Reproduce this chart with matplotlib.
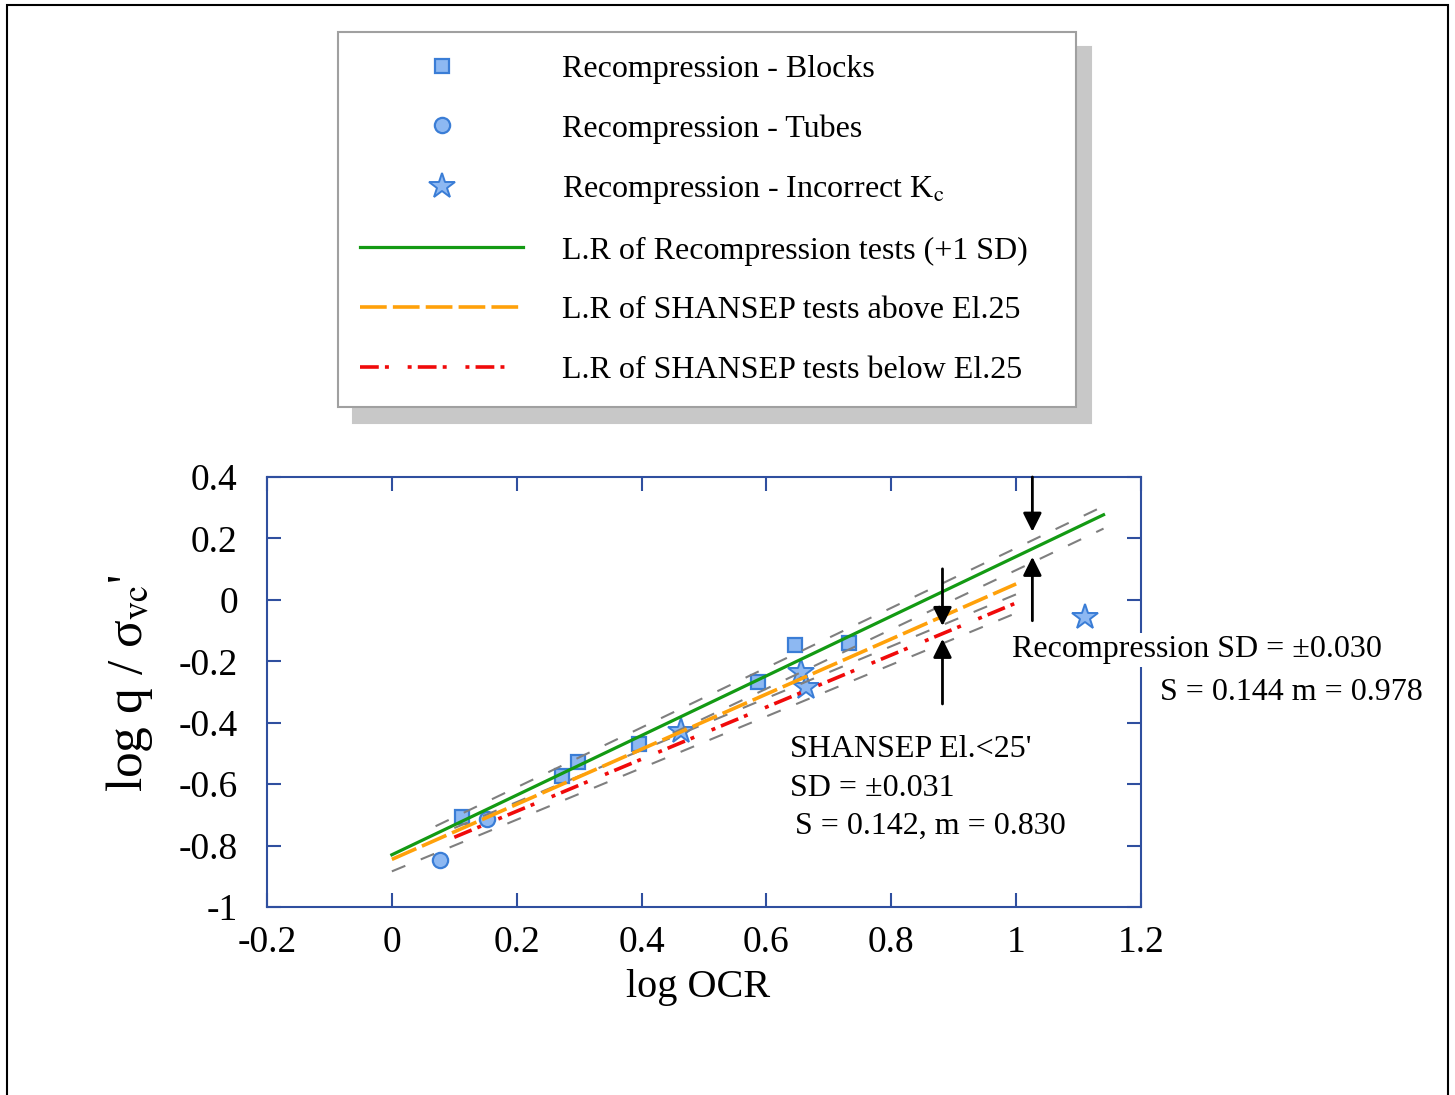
import matplotlib
matplotlib.use('Agg')
import matplotlib.pyplot as plt
import numpy as np
from matplotlib.lines import Line2D
from matplotlib.patches import Rectangle

plt.rcParams['font.family'] = ['Liberation Serif', 'DejaVu Serif']
plt.rcParams['mathtext.fontset'] = 'stix'
plt.rcParams['axes.unicode_minus'] = False

# points: log OCR vs log q / sigma_vc'
blocks_x = np.array([0.112, 0.273, 0.298, 0.396, 0.587, 0.645, 0.733])
blocks_y = np.array([-0.708, -0.574, -0.529, -0.470, -0.268, -0.147, -0.140])

tubes_x = np.array([0.077, 0.152])
tubes_y = np.array([-0.848, -0.715])

kc_x = np.array([0.463, 0.656, 0.664, 1.111])
kc_y = np.array([-0.427, -0.235, -0.284, -0.057])

# regression lines (end points)
recomp_x = [0.0, 1.14]
recomp_y = [-0.83, 0.277]
above_x = [0.0, 1.0]
above_y = [-0.845, 0.052]
below_x = [0.1, 1.0]
below_y = [-0.773, -0.010]

# grey +/- SD lines
sd_x = [[0.07, 1.14], [0.45, 1.14], [0.1, 1.0], [0.0, 1.0]]
sd_y = [[-0.737, 0.305], [-0.434, 0.232], [-0.743, 0.018], [-0.884, -0.043]]

# arrows showing the SD bands
arrow_x = [1.026, 1.026, 0.882, 0.882]
arrow_tail = [0.40, -0.068, 0.101, -0.339]
arrow_head = [0.222, 0.140, -0.085, -0.127]

labels = ['Recompression - Blocks',
          'Recompression - Tubes',
          r'Recompression - Incorrect K$_{\mathrm{c}}$',
          'L.R of Recompression tests (+1 SD)',
          'L.R of SHANSEP tests above El.25',
          'L.R of SHANSEP tests below El.25']


def fmt(v, pos):
    return '%g' % (round(v, 2) + 0.0)


def main():
    face = '#8DB8F2'
    edge = '#3A7DD6'
    green = '#139A13'
    orange = '#FFA10A'
    red = '#F00A0A'
    spine_col = '#2F4F9F'
    orange_ls = (0, (7.4, 1.7))
    red_ls = (0, (5.2, 1.7, 1.1, 5.2, 1.1, 1.7))
    grey_ls = (0, (7, 8))

    fig = plt.figure(figsize=(14.55, 10.95), dpi=100)
    ax = fig.add_axes([267 / 1455, 1 - 907 / 1095, 874 / 1455, 430 / 1095])

    for xs, ys in zip(sd_x, sd_y):
        ax.plot(xs, ys, color='#7f7f7f', lw=1.5, ls=grey_ls, zorder=3)

    ax.plot(blocks_x, blocks_y, ls='none', marker='s', ms=10, mfc=face, mec=edge, mew=1.6, zorder=2)
    ax.plot(tubes_x, tubes_y, ls='none', marker='o', ms=11, mfc=face, mec=edge, mew=1.6, zorder=2)
    ax.plot(kc_x, kc_y, ls='none', marker='*', ms=19, mfc=face, mec=edge, mew=1.4, zorder=2)

    ax.plot(recomp_x, recomp_y, color=green, lw=2.3, zorder=4)
    ax.plot(above_x, above_y, color=orange, lw=2.6, ls=orange_ls, zorder=4)
    ax.plot(below_x, below_y, color=red, lw=2.6, ls=red_ls, zorder=4)

    for xa, yt, yh in zip(arrow_x, arrow_tail, arrow_head):
        ax.annotate('', xy=(xa, yh), xytext=(xa, yt),
                    arrowprops=dict(arrowstyle='-|>', color='black', lw=2,
                                    mutation_scale=28, shrinkA=0, shrinkB=0),
                    zorder=5, annotation_clip=False)

    ax.text(0.994, -0.163, 'Recompression SD = ±0.030', fontsize=23, va='center',
            ha='left', zorder=6, bbox=dict(fc='white', ec='none', pad=2))
    ax.text(1.230, -0.303, 'S = 0.144 m = 0.978', fontsize=23, va='center',
            ha='left', zorder=6, bbox=dict(fc='white', ec='none', pad=2))
    ax.text(0.638, -0.486, "SHANSEP El.<25'", fontsize=23, va='center', ha='left')
    ax.text(0.638, -0.613, 'SD = ±0.031', fontsize=23, va='center', ha='left')
    ax.text(0.645, -0.737, 'S = 0.142, m = 0.830', fontsize=23, va='center', ha='left')

    ax.set_xlim(-0.2, 1.2)
    ax.set_ylim(-1, 0.4)
    ax.set_xticks(np.arange(-0.2, 1.21, 0.2))
    ax.set_yticks(np.arange(-1.0, 0.41, 0.2))
    ax.xaxis.set_major_formatter(plt.FuncFormatter(fmt))
    ax.yaxis.set_major_formatter(plt.FuncFormatter(fmt))
    ax.tick_params(axis='both', direction='in', length=10, width=1.5, color=spine_col,
                   top=True, right=True, labelsize=27)
    ax.tick_params(axis='x', pad=13)
    ax.tick_params(axis='y', pad=21)
    for s in ax.spines.values():
        s.set_color(spine_col)
        s.set_linewidth(1.5)

    ax.set_xlabel('log OCR', fontsize=29)
    ax.xaxis.set_label_coords(0.493, -0.145)
    ax.set_ylabel(r"log q / σ$_{\mathrm{vc}}$'", fontsize=37)
    ax.yaxis.set_label_coords(-0.128, 0.52)

    handles = [
        Line2D([], [], ls='none', marker='s', ms=10, mfc=face, mec=edge, mew=1.6),
        Line2D([], [], ls='none', marker='o', ms=11, mfc=face, mec=edge, mew=1.6),
        Line2D([], [], ls='none', marker='*', ms=19, mfc=face, mec=edge, mew=1.4),
        Line2D([], [], color=green, lw=2.3),
        Line2D([], [], color=orange, lw=2.6, ls=orange_ls),
        Line2D([], [], color=red, lw=2.6, ls=red_ls),
    ]
    leg = fig.legend(handles, labels, loc='upper left', mode='expand',
                     bbox_to_anchor=(338 / 1455, 1 - 412 / 1095, 738 / 1455, 380 / 1095),
                     fontsize=23, frameon=True, fancybox=False, edgecolor='#a0a0a0',
                     framealpha=1, borderpad=0.7, labelspacing=0.95, handlelength=5.1,
                     handletextpad=1.2, borderaxespad=0,
                     shadow={'ox': 11, 'oy': -11, 'facecolor': '#c8c8c8',
                             'edgecolor': '#c8c8c8', 'alpha': 1})
    leg.get_frame().set_linewidth(1.5)

    fig.add_artist(Rectangle((7 / 1455, -0.05), 1441 / 1455, 1.05 - 5 / 1095,
                             transform=fig.transFigure, fill=False, ec='black', lw=1.5))

    fig.savefig('out.png', dpi=100)


if __name__ == "__main__":
    main()
